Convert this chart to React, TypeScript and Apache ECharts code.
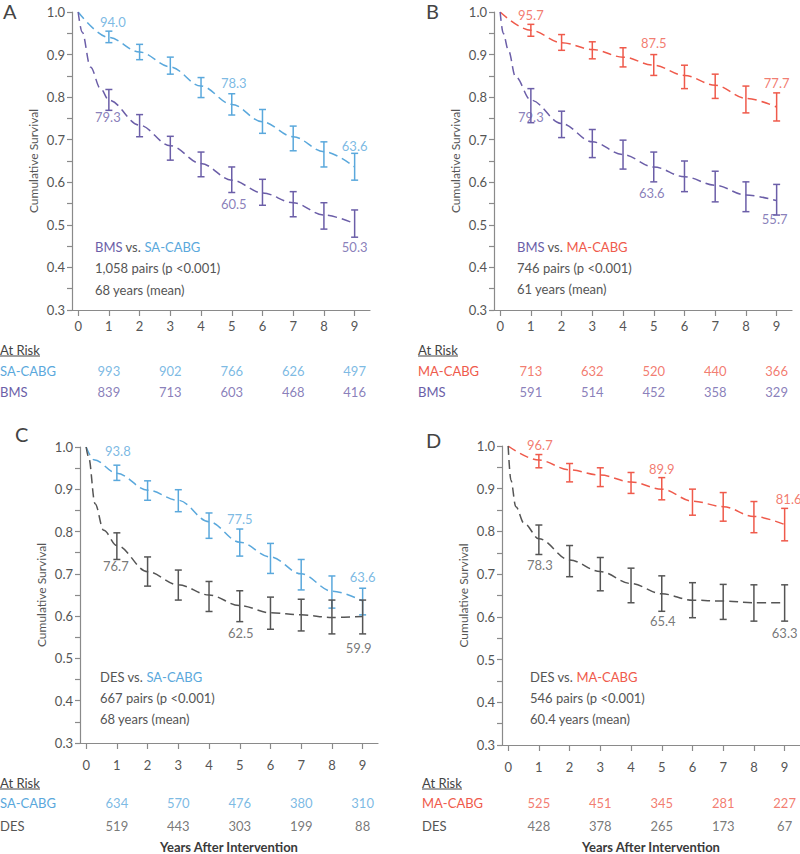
import React, { useEffect, useRef } from 'react';
import * as echarts from 'echarts';

// ---------- colours / fonts ----------
const BLUE = '#5aa8dc';
const PURPLE = '#6b5ea8';
const RED = '#ef5a4b';
const DARK = '#555555';
const AXIS = '#8a8a8a';
const FONT = 'Lato, "Open Sans", sans-serif';

// ---------- axes ----------
const xTicks = [0, 1, 2, 3, 4, 5, 6, 7, 8, 9];
const yTicks = [0.3, 0.35, 0.4, 0.45, 0.5, 0.55, 0.6, 0.65, 0.7, 0.75, 0.8, 0.85, 0.9, 0.95, 1.0];
const yLabels = [0.3, 0.4, 0.5, 0.6, 0.7, 0.8, 0.9, 1.0];
const barYears = [1, 2, 3, 4, 5, 6, 7, 8, 9];
const riskYears = [1, 3, 5, 7, 9];
const labelYears = [1, 5, 9];

// ---------- Panel A: BMS vs SA-CABG ----------
const aSaX = [0, 1, 2, 3, 4, 5, 6, 7, 8, 9];
const aSaY = [1.0, 0.94, 0.906, 0.871, 0.826, 0.783, 0.742, 0.707, 0.672, 0.636];
const aSaLo = [0.928, 0.888, 0.854, 0.799, 0.758, 0.715, 0.674, 0.636, 0.605];
const aSaHi = [0.955, 0.924, 0.894, 0.846, 0.808, 0.771, 0.732, 0.695, 0.668];
const aBmsX = [0, 0.13, 0.4, 0.73, 1, 2, 3, 4, 5, 6, 7, 8, 9];
const aBmsY = [1.0, 0.953, 0.871, 0.82, 0.793, 0.734, 0.686, 0.644, 0.605, 0.575, 0.552, 0.523, 0.503];
const aBmsLo = [0.769, 0.707, 0.652, 0.613, 0.576, 0.546, 0.519, 0.49, 0.471];
const aBmsHi = [0.818, 0.759, 0.708, 0.671, 0.636, 0.607, 0.578, 0.552, 0.535];
const aSaRisk = [993, 902, 766, 626, 497];
const aBmsRisk = [839, 713, 603, 468, 416];

// ---------- Panel B: BMS vs MA-CABG ----------
const bMaX = [0, 1, 2, 3, 4, 5, 6, 7, 8, 9];
const bMaY = [1.0, 0.957, 0.928, 0.912, 0.894, 0.875, 0.851, 0.828, 0.797, 0.777];
const bMaLo = [0.943, 0.91, 0.89, 0.871, 0.851, 0.82, 0.797, 0.763, 0.744];
const bMaHi = [0.971, 0.947, 0.93, 0.916, 0.9, 0.875, 0.854, 0.826, 0.81];
const bBmsX = [0, 0.1, 0.27, 0.5, 1, 2, 3, 4, 5, 6, 7, 8, 9];
const bBmsY = [1.0, 0.95, 0.91, 0.848, 0.793, 0.738, 0.695, 0.665, 0.636, 0.613, 0.593, 0.57, 0.557];
const bBmsLo = [0.74, 0.705, 0.658, 0.631, 0.601, 0.578, 0.554, 0.531, 0.523];
const bBmsHi = [0.82, 0.767, 0.724, 0.699, 0.671, 0.65, 0.626, 0.601, 0.595];
const bMaRisk = [713, 632, 520, 440, 366];
const bBmsRisk = [591, 514, 452, 358, 329];

// ---------- Panel C: DES vs SA-CABG ----------
const cSaX = [0, 0.25, 1, 2, 3, 4, 5, 6, 7, 8, 9];
const cSaY = [1.0, 0.97, 0.938, 0.898, 0.874, 0.823, 0.775, 0.74, 0.7, 0.659, 0.636];
const cSaLo = [0.921, 0.874, 0.847, 0.784, 0.742, 0.701, 0.662, 0.619, 0.603];
const cSaHi = [0.957, 0.92, 0.899, 0.844, 0.806, 0.772, 0.734, 0.695, 0.666];
const cDesX = [0, 0.08, 0.29, 0.57, 1, 2, 3, 4, 5, 6, 7, 8, 9];
const cDesY = [1.0, 0.976, 0.866, 0.803, 0.767, 0.705, 0.674, 0.65, 0.625, 0.608, 0.603, 0.597, 0.599];
const cDesLo = [0.734, 0.671, 0.638, 0.611, 0.587, 0.569, 0.565, 0.558, 0.558];
const cDesHi = [0.797, 0.74, 0.709, 0.682, 0.66, 0.645, 0.64, 0.638, 0.638];
const cSaRisk = [634, 570, 476, 380, 310];
const cDesRisk = [519, 443, 303, 199, 88];

// ---------- Panel D: DES vs MA-CABG ----------
const dMaX = [0, 1, 2, 3, 4, 5, 6, 7, 8, 9];
const dMaY = [1.0, 0.967, 0.944, 0.932, 0.916, 0.899, 0.871, 0.858, 0.835, 0.816];
const dMaLo = [0.949, 0.916, 0.905, 0.889, 0.874, 0.838, 0.824, 0.797, 0.778];
const dMaHi = [0.98, 0.959, 0.949, 0.938, 0.926, 0.899, 0.891, 0.87, 0.854];
const dDesX = [0, 0.09, 0.25, 0.52, 1, 2, 3, 4, 5, 6, 7, 8, 9];
const dDesY = [1.0, 0.92, 0.858, 0.819, 0.783, 0.733, 0.706, 0.678, 0.654, 0.639, 0.637, 0.633, 0.633];
const dDesLo = [0.746, 0.694, 0.661, 0.633, 0.613, 0.598, 0.594, 0.59, 0.59];
const dDesHi = [0.815, 0.767, 0.739, 0.714, 0.696, 0.68, 0.676, 0.675, 0.675];
const dMaRisk = [525, 451, 345, 281, 227];
const dDesRisk = [428, 378, 265, 173, 67];

// ---------- layout / styling configuration ----------
type Curve = {
  name: string;
  color: string;
  xs: number[];
  ys: number[];
  lo: number[];
  hi: number[];
  risk: number[];
  labelOffsets: number[][];
};

type Panel = {
  letter: string;
  letterPos: number[];
  grid: { left: number; top: number; width: number; height: number };
  riskGrid: { left: number; top: number; width: number; height: number };
  riskLabelX: number;
  riskHeaderY: number;
  xLabelMargin: number;
  bottomName: boolean;
  textX: number;
  textY: number[];
  title: string;
  pairs: string;
  age: string;
  top: Curve;
  bottom: Curve;
};

const panels: Panel[] = [
  {
    letter: 'A', letterPos: [3, 1],
    grid: { left: 72, top: 12, width: 298, height: 298 },
    riskGrid: { left: 72, top: 360, width: 298, height: 42 },
    riskLabelX: 0, riskHeaderY: 350, xLabelMargin: 9, bottomName: false,
    textX: 95, textY: [247, 268, 290],
    title: '{p|BMS} vs. {c|SA-CABG}', pairs: '1,058 pairs (p <0.001)', age: '68 years (mean)',
    top: { name: 'SA-CABG', color: BLUE, xs: aSaX, ys: aSaY, lo: aSaLo, hi: aSaHi, risk: aSaRisk,
      labelOffsets: [[4, -16], [2, -21], [0, -21]] },
    bottom: { name: 'BMS', color: PURPLE, xs: aBmsX, ys: aBmsY, lo: aBmsLo, hi: aBmsHi, risk: aBmsRisk,
      labelOffsets: [[-1, 17], [2, 24], [0, 23]] },
  },
  {
    letter: 'B', letterPos: [426, 1],
    grid: { left: 494, top: 12, width: 298, height: 298 },
    riskGrid: { left: 494, top: 360, width: 298, height: 42 },
    riskLabelX: 418, riskHeaderY: 350, xLabelMargin: 9, bottomName: false,
    textX: 517, textY: [247, 268, 289],
    title: '{p|BMS} vs. {c|MA-CABG}', pairs: '746 pairs (p <0.001)', age: '61 years (mean)',
    top: { name: 'MA-CABG', color: RED, xs: bMaX, ys: bMaY, lo: bMaLo, hi: bMaHi, risk: bMaRisk,
      labelOffsets: [[0, -15], [0, -22], [0, -24]] },
    bottom: { name: 'BMS', color: PURPLE, xs: bBmsX, ys: bBmsY, lo: bBmsLo, hi: bBmsHi, risk: bBmsRisk,
      labelOffsets: [[0, 17], [-2, 26], [-2, 18]] },
  },
  {
    letter: 'C', letterPos: [15, 424],
    grid: { left: 80, top: 447, width: 298, height: 296 },
    riskGrid: { left: 80, top: 791, width: 298, height: 46 },
    riskLabelX: 0, riskHeaderY: 783, xLabelMargin: 15, bottomName: true,
    textX: 100, textY: [677, 698, 719],
    title: '{d|DES} vs. {c|SA-CABG}', pairs: '667 pairs (p <0.001)', age: '68 years (mean)',
    top: { name: 'SA-CABG', color: BLUE, xs: cSaX, ys: cSaY, lo: cSaLo, hi: cSaHi, risk: cSaRisk,
      labelOffsets: [[1, -22], [0, -23], [0, -24]] },
    bottom: { name: 'DES', color: DARK, xs: cDesX, ys: cDesY, lo: cDesLo, hi: cDesHi, risk: cDesRisk,
      labelOffsets: [[-1, 20], [1, 27], [-4, 31]] },
  },
  {
    letter: 'D', letterPos: [426, 430],
    grid: { left: 502, top: 446, width: 298, height: 299 },
    riskGrid: { left: 502, top: 791, width: 298, height: 46 },
    riskLabelX: 422, riskHeaderY: 783, xLabelMargin: 15, bottomName: true,
    textX: 530, textY: [677, 698, 719],
    title: '{d|DES} vs. {c|MA-CABG}', pairs: '546 pairs (p <0.001)', age: '60.4 years (mean)',
    top: { name: 'MA-CABG', color: RED, xs: dMaX, ys: dMaY, lo: dMaLo, hi: dMaHi, risk: dMaRisk,
      labelOffsets: [[1, -15], [0, -20], [4, -26]] },
    bottom: { name: 'DES', color: DARK, xs: dDesX, ys: dDesY, lo: dDesLo, hi: dDesHi, risk: dDesRisk,
      labelOffsets: [[1, 26], [1, 27], [0, 30]] },
  },
];

function buildOption() {
  const grid: any[] = [];
  const xAxis: any[] = [];
  const yAxis: any[] = [];
  const series: any[] = [];
  const graphic: any[] = [];

  panels.forEach((p, i) => {
    grid.push({ ...p.grid, containLabel: false, outerBoundsMode: 'none' });
    xAxis.push({
      type: 'value', gridIndex: i, min: -0.2, max: 9.5,
      splitLine: { show: false },
      axisLine: { show: true, onZero: false, lineStyle: { color: AXIS, width: 1.2 } },
      axisTick: { show: true, length: 6, inside: false, customValues: xTicks, lineStyle: { color: AXIS, width: 1.2 } },
      axisLabel: { show: true, customValues: xTicks, margin: p.xLabelMargin, color: DARK, fontSize: 13, fontFamily: FONT,
        formatter: (v: number) => String(Math.round(v)) },
    });
    yAxis.push({
      type: 'value', gridIndex: i, min: 0.3, max: 1.0,
      name: 'Cumulative Survival', nameLocation: 'middle', nameGap: 33, nameRotate: 90,
      nameTextStyle: { color: DARK, fontSize: 12, fontFamily: FONT },
      splitLine: { show: false },
      axisLine: { show: true, onZero: false, lineStyle: { color: AXIS, width: 1.2 } },
      axisTick: { show: true, length: 5, inside: false, customValues: yTicks, lineStyle: { color: AXIS, width: 1.2 } },
      axisLabel: { show: true, customValues: yLabels, margin: 7, color: DARK, fontSize: 13, fontFamily: FONT,
        formatter: (v: number) => v.toFixed(1) },
    });

    [p.top, p.bottom].forEach((c) => {
      series.push({
        type: 'line', xAxisIndex: i, yAxisIndex: i, silent: true,
        data: c.xs.map((x, k) => [x, c.ys[k]]),
        smooth: 0.35, smoothMonotone: 'x', showSymbol: false, symbol: 'none',
        lineStyle: { color: c.color, width: 1.5, type: [9, 5] },
        z: 2,
      });
      series.push({
        type: 'custom', xAxisIndex: i, yAxisIndex: i, silent: true,
        data: barYears.map((x, k) => [x, c.lo[k], c.hi[k]]),
        encode: { x: 0, y: [1, 2] },
        renderItem: (params: any, api: any) => {
          const x = api.value(0);
          const top = api.coord([x, api.value(2)]);
          const bot = api.coord([x, api.value(1)]);
          const w = 3.5;
          const style = { stroke: c.color, lineWidth: 1.5, fill: 'none' };
          return {
            type: 'group',
            children: [
              { type: 'line', shape: { x1: top[0], y1: top[1], x2: bot[0], y2: bot[1] }, style },
              { type: 'line', shape: { x1: top[0] - w, y1: top[1], x2: top[0] + w, y2: top[1] }, style },
              { type: 'line', shape: { x1: bot[0] - w, y1: bot[1], x2: bot[0] + w, y2: bot[1] }, style },
            ],
          };
        },
        z: 3,
      });
      series.push({
        type: 'scatter', xAxisIndex: i, yAxisIndex: i, silent: true,
        symbolSize: 0,
        data: labelYears.map((yr, k) => {
          const idx = c.xs.indexOf(yr);
          return {
            value: [yr, c.ys[idx]],
            label: { offset: c.labelOffsets[k] },
          };
        }),
        label: {
          show: true, position: 'inside', color: c.color, fontSize: 13, fontFamily: FONT,
          formatter: (q: any) => (q.value[1] * 100).toFixed(1),
        },
        z: 4,
      });
    });
  });

  // At-risk tables
  panels.forEach((p, i) => {
    const gi = 4 + i;
    const rowColors: Record<string, string> = {
      [p.top.name]: p.top.color,
      [p.bottom.name]: p.bottom.color,
    };
    grid.push({ ...p.riskGrid, containLabel: false, outerBoundsMode: 'none' });
    xAxis.push({
      type: 'value', gridIndex: gi, min: -0.2, max: 9.5,
      axisLine: { show: false }, axisTick: { show: false }, axisLabel: { show: false }, splitLine: { show: false },
      name: p.bottomName ? 'Years After Intervention' : '',
      nameLocation: 'middle', nameGap: 10,
      nameTextStyle: { color: '#3a3a3a', fontSize: 13, fontFamily: FONT, fontWeight: 'bold', verticalAlign: 'middle' },
    });
    yAxis.push({
      type: 'category', gridIndex: gi, inverse: true,
      data: [p.top.name, p.bottom.name],
      axisLine: { show: false }, axisTick: { show: false }, splitLine: { show: false },
      axisLabel: {
        show: true, align: 'left', margin: p.riskGrid.left - p.riskLabelX, fontSize: 13, fontFamily: FONT,
        color: (v: string) => rowColors[v] || DARK,
      },
    });
    [p.top, p.bottom].forEach((c) => {
      series.push({
        type: 'scatter', xAxisIndex: gi, yAxisIndex: gi, silent: true, symbolSize: 0,
        data: riskYears.map((yr, k) => [yr, c.name, c.risk[k]]),
        label: {
          show: true, position: 'inside', color: c.color, fontSize: 13, fontFamily: FONT,
          formatter: (q: any) => String(q.value[2]),
        },
      });
    });

    // At Risk header (underlined)
    graphic.push({
      type: 'text', x: p.riskLabelX, y: p.riskHeaderY,
      style: { text: 'At Risk', fill: '#444', fontSize: 13, fontFamily: FONT, verticalAlign: 'middle', align: 'left' },
    });
    graphic.push({
      type: 'line',
      shape: { x1: p.riskLabelX, y1: p.riskHeaderY + 6, x2: p.riskLabelX + 40, y2: p.riskHeaderY + 6 },
      style: { stroke: '#444', lineWidth: 1 },
    });

    // Panel letter
    graphic.push({
      type: 'text', x: p.letterPos[0], y: p.letterPos[1],
      style: { text: p.letter, fill: '#444', fontSize: 20, fontFamily: FONT, verticalAlign: 'top' },
    });

    // In-plot annotation
    graphic.push({
      type: 'text', x: p.textX, y: p.textY[0],
      style: {
        text: p.title, fill: DARK, fontSize: 13, fontFamily: FONT, verticalAlign: 'middle',
        rich: {
          p: { fill: PURPLE, fontSize: 13, fontFamily: FONT },
          d: { fill: DARK, fontSize: 13, fontFamily: FONT },
          c: { fill: p.top.color, fontSize: 13, fontFamily: FONT },
        },
      },
    });
    graphic.push({
      type: 'text', x: p.textX, y: p.textY[1],
      style: { text: p.pairs, fill: DARK, fontSize: 13, fontFamily: FONT, verticalAlign: 'middle' },
    });
    graphic.push({
      type: 'text', x: p.textX, y: p.textY[2],
      style: { text: p.age, fill: DARK, fontSize: 13, fontFamily: FONT, verticalAlign: 'middle' },
    });
  });

  return {
    animation: false,
    backgroundColor: '#ffffff',
    textStyle: { fontFamily: FONT },
    grid, xAxis, yAxis, series, graphic,
  };
}

export default function App() {
  const ref = useRef<HTMLDivElement>(null);
  useEffect(() => {
    if (!ref.current) return;
    const chart = echarts.init(ref.current, null, { renderer: 'svg' });
    chart.setOption(buildOption() as any);
    return () => chart.dispose();
  }, []);
  return (
    <div
      ref={ref}
      style={{ position: 'absolute', left: 0, top: 0, width: 800, height: 854, background: '#fff' }}
    />
  );
}
